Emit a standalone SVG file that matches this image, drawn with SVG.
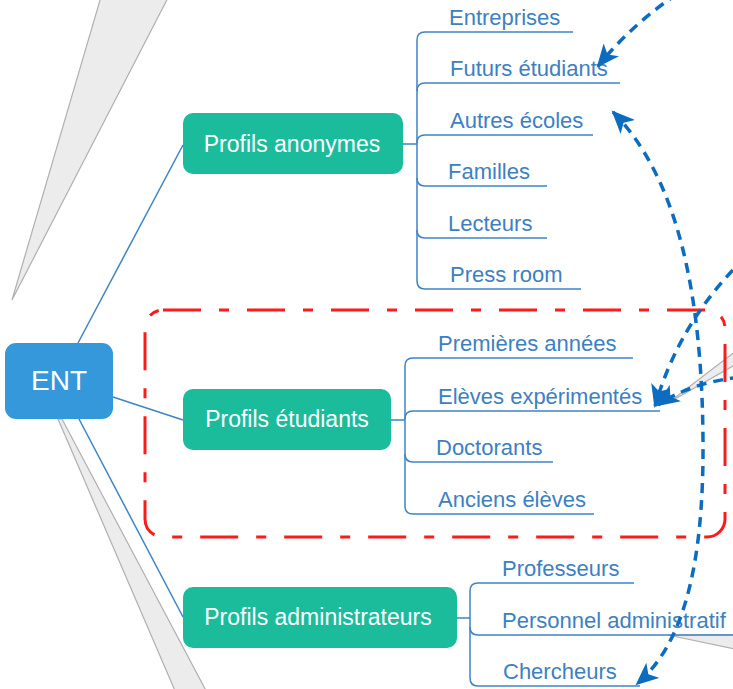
<svg xmlns="http://www.w3.org/2000/svg" width="733" height="689" viewBox="0 0 733 689">
<defs>
<style>
.wedge{fill:#ececec;stroke:#b0b0b0;stroke-width:1.2}
.main{fill:#3498db}
.prof{fill:#1abc9c}
.ntxt{font-family:"Liberation Sans",Arial,sans-serif;fill:#ffffff;text-anchor:middle}
.conn{fill:none;stroke:#3d84c6;stroke-width:1.5}
.ltxt{font-family:"Liberation Sans",Arial,sans-serif;font-size:22px;fill:#3d80c2}
.dash{fill:none;stroke:#0b6cc0;stroke-width:3.5;stroke-dasharray:10 7}
.group{fill:none;stroke:#ff1a1a;stroke-width:3;stroke-dasharray:38 18 10 18}
</style>
<marker id="ah" markerUnits="userSpaceOnUse" markerWidth="24" markerHeight="20" refX="21" refY="10" orient="auto-start-reverse" viewBox="0 0 24 20">
<path d="M0,0 L23,10 L0,20 L6,10 z" fill="#0b6cc0"/>
</marker>
</defs>
<rect width="733" height="689" fill="#ffffff"/>
<g id="wedges">
<polygon class="wedge" points="12,300 103,-10 172,-10"/>
<polygon class="wedge" points="58,419 179,700 211,700 62,419"/>
<polygon class="wedge" points="668,403 740,348 740,362"/>
<polygon class="wedge" points="668,635 740,635 740,650"/>
</g>
<g id="connectors">
<path class="conn" d="M78,343 L183,145"/>
<path class="conn" d="M113,397 L183,420"/>
<path class="conn" d="M79,419 L183,617"/>
<path class="conn" d="M403,144 H417"/>
<path class="conn" d="M573,32 H425 Q417,32 417,40 V281 Q417,289 425,289 H581"/>
<path class="conn" d="M417,91 Q417,83 425,83 H620"/>
<path class="conn" d="M417,143 Q417,135 425,135 H593"/>
<path class="conn" d="M417,178 Q417,186 425,186 H547"/>
<path class="conn" d="M417,230 Q417,238 425,238 H547"/>
<path class="conn" d="M391,420 H405"/>
<path class="conn" d="M633,358 H413 Q405,358 405,366 V506 Q405,514 413,514 H594"/>
<path class="conn" d="M405,419 Q405,411 413,411 H660"/>
<path class="conn" d="M405,454 Q405,462 413,462 H553"/>
<path class="conn" d="M457,618 H470"/>
<path class="conn" d="M634,583 H478 Q470,583 470,591 V678 Q470,686 478,686 H640"/>
<path class="conn" d="M470,627 Q470,635 478,635 H733"/>
</g>
<g id="node-ent">
<rect class="main" x="5" y="343" width="108" height="76" rx="11"/>
<text class="ntxt" x="59" y="390" font-size="28">ENT</text>
</g>
<g id="node-anonymes">
<rect class="prof" x="183" y="113" width="220" height="61" rx="10"/>
<text class="ntxt" x="292" y="152" font-size="23">Profils anonymes</text>
</g>
<g id="node-etudiants">
<rect class="prof" x="183" y="389" width="208" height="61" rx="10"/>
<text class="ntxt" x="287" y="427" font-size="23">Profils étudiants</text>
</g>
<g id="node-admin">
<rect class="prof" x="183" y="587" width="274" height="61" rx="10"/>
<text class="ntxt" x="318" y="625" font-size="23">Profils administrateurs</text>
</g>
<g id="leaves-anonymes">
<text class="ltxt" x="449" y="25">Entreprises</text>
<text class="ltxt" x="450" y="76">Futurs étudiants</text>
<text class="ltxt" x="450" y="128">Autres écoles</text>
<text class="ltxt" x="448" y="179">Familles</text>
<text class="ltxt" x="448" y="231">Lecteurs</text>
<text class="ltxt" x="450" y="282">Press room</text>
</g>
<g id="leaves-etudiants">
<text class="ltxt" x="438" y="351">Premières années</text>
<text class="ltxt" x="438" y="404">Elèves expérimentés</text>
<text class="ltxt" x="436" y="455">Doctorants</text>
<text class="ltxt" x="438" y="507">Anciens élèves</text>
</g>
<g id="leaves-admin">
<text class="ltxt" x="502" y="576">Professeurs</text>
<text class="ltxt" x="502" y="628">Personnel administratif</text>
<text class="ltxt" x="503" y="679">Chercheurs</text>
</g>
<g id="group-etudiants">
<rect class="group" x="145" y="310" width="580" height="227" rx="18"/>
</g>
<g id="relations">
<path class="dash" d="M692,-15 Q640,15 598,66" marker-end="url(#ah)"/>
<path class="dash" d="M613,112 C680,180 702,300 703,440 C704,570 682,645 637,684" marker-start="url(#ah)" marker-end="url(#ah)"/>
<path class="dash" d="M745,258 Q680,320 655,406" marker-end="url(#ah)"/>
<path class="dash" d="M740,377 Q690,383 658,405" marker-end="url(#ah)"/>
</g>
</svg>
